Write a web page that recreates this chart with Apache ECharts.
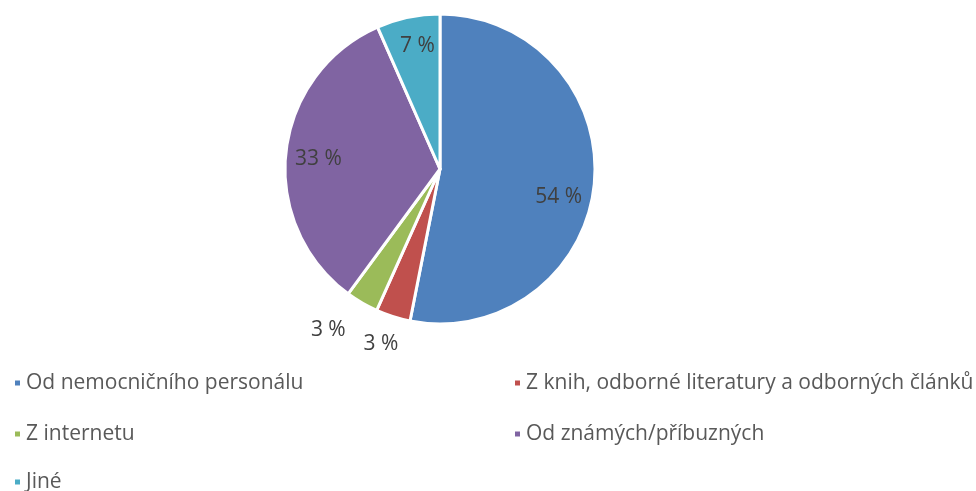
<!DOCTYPE html>
<html><head><meta charset="utf-8">
<script src="https://cdn.jsdelivr.net/npm/echarts@6/dist/echarts.min.js"></script>
<style>html,body{margin:0;padding:0;background:#fff}#c{width:976px;height:491px}</style>
</head><body><div id="c"></div>
<script>
const categories = ['Od nemocničního personálu','Z knih, odborné literatury a odborných článků','Z internetu','Od známých/příbuzných','Jiné'];
const values = [53.1, 3.6, 3.4, 33.3, 6.6];
const labelTexts = ['54 %','3 %','3 %','33 %','7 %'];
const colors = ['#4F81BD','#C0504D','#9BBB59','#8064A2','#4BACC6'];
const insideShown = [true,false,false,true,true];
// label nudges to mimic the original placement: [horizontal padding right, vertical shift (+down)]
const labelNudge = [[0,16],[4,-4],[34,-1],[6,3],[-4,-6]];

const FONT = '"Open Sans", sans-serif';
const center = [440, 169];
const R = 155;

function labelFor(i, show){
  const [padR, dy] = labelNudge[i];
  const lab = {show:show, formatter:labelTexts[i],
          padding: padR >= 0 ? [0,padR,0,0] : [0,0,0,-padR]};
  if (dy !== 0) {
    lab.formatter = dy > 0 ? '\n' + labelTexts[i] : labelTexts[i] + '\n';
    lab.lineHeight = Math.abs(dy)*2;
  }
  return lab;
}

const mainData = categories.map((n,i)=>({name:n, value:values[i], itemStyle:{color:colors[i]}}));
const innerLabelData = categories.map((n,i)=>({name:n, value:values[i], label:labelFor(i, insideShown[i])}));
const outerLabelData = categories.map((n,i)=>({name:n, value:values[i], label:labelFor(i, !insideShown[i])}));

// legend layout: [left, top] per item
const legendPos = [[13,371],[513,371],[13,422],[513,422],[13,470]];

const chart = echarts.init(document.getElementById('c'), null, {renderer:'canvas'});
chart.setOption({
  animation:false,
  color: colors,
  legend: categories.map((n,i)=>({
    left: legendPos[i][0], top: legendPos[i][1], padding:0,
    data:[n], selectedMode:false,
    icon:'rect', itemWidth:7, itemHeight:7,
    textStyle:{fontFamily:FONT, fontSize:21, color:'#595959', lineHeight:24}
  })),
  series:[{
    type:'pie', center:center, radius:[0,R], startAngle:90, clockwise:true,
    label:{show:false}, labelLine:{show:false},
    itemStyle:{borderColor:'#fff', borderWidth:3},
    emphasis:{disabled:true},
    data: mainData
  },{
    type:'pie', center:center, radius:[R*0.5,R], startAngle:90, clockwise:true, silent:true,
    itemStyle:{color:'rgba(0,0,0,0)'}, legendHoverLink:false,
    label:{position:'inside', fontFamily:FONT, fontSize:21, color:'#404040'},
    labelLine:{show:false}, labelLayout:{hideOverlap:false},
    emphasis:{disabled:true},
    data: innerLabelData
  },{
    type:'pie', center:center, radius:[R,R+60], startAngle:90, clockwise:true, silent:true,
    itemStyle:{color:'rgba(0,0,0,0)'}, legendHoverLink:false,
    label:{position:'inside', fontFamily:FONT, fontSize:21, color:'#404040'},
    labelLine:{show:false}, labelLayout:{hideOverlap:false},
    avoidLabelOverlap:false,
    emphasis:{disabled:true},
    data: outerLabelData
  }]
});
</script></body></html>
